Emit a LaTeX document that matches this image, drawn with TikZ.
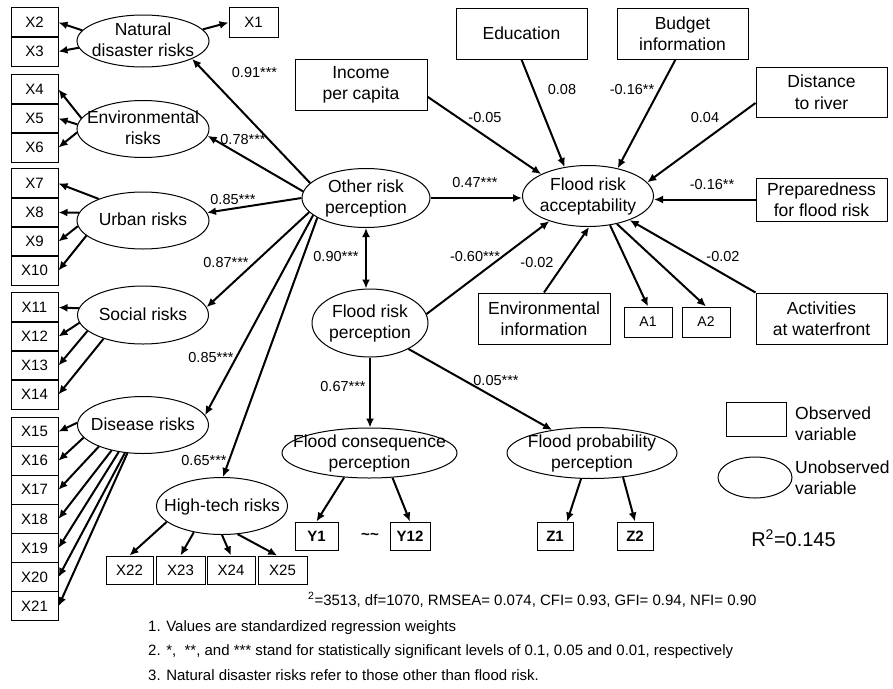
\documentclass[tikz,border=0pt]{standalone}
\usepackage{fontspec}
\setmainfont{Liberation Sans}
\usetikzlibrary{shapes.geometric,arrows.meta,calc}
\newcommand{\elab}[1]{\makebox[0pt]{\smash{\raisebox{-0.3em}{\begin{tabular}[c]{@{}c@{}}#1\end{tabular}}}}}
\tikzset{
  lat/.style={draw, ellipse, line width=1pt, inner sep=0pt, font=\fontsize{17.5}{21}\selectfont},
  big/.style={draw, line width=1pt, inner sep=0pt, align=center, font=\fontsize{17.5}{21.5}\selectfont, minimum width=131pt, minimum height=51pt},
  xb/.style={draw, line width=1pt, inner sep=0pt, minimum width=47pt, minimum height=29.2pt, font=\fontsize{15}{18}\selectfont},
  yb/.style={draw, line width=1pt, inner sep=0pt, minimum height=28pt, font=\fontsize{15}{18}\selectfont\bfseries},
  coef/.style={inner sep=0pt, font=\fontsize{14.5}{17}\selectfont},
  foot/.style={inner sep=0pt, anchor=base west, font=\fontsize{15}{18}\selectfont},
  arr/.style={line width=2pt, -{Latex[length=9pt,width=8pt]}},
  arrtwo/.style={line width=2pt, {Latex[length=9pt,width=8pt]}-{Latex[length=9pt,width=8pt]}}
}
\begin{document}
\begin{tikzpicture}[x=1pt,y=-1pt]
\useasboundingbox (0,0) rectangle (893,688);
% left observed boxes
\foreach \i/\yy in {2/22.5,3/51.5,4/89.5,5/118.5,6/147.5,7/183.5,8/212.5,9/241.5,10/270.5,11/307.5,12/336.5,13/365.5,14/394.5,15/431.6,16/460.7,17/489.8,18/518.9,19/548,20/577.1,21/606.2}
  \node[xb] (X\i) at (34.5,\yy) {X\i};
\node[xb, minimum width=49pt] (X1) at (253.5,22.5) {X1};
\node[xb, minimum height=28pt] (X22) at (129.5,570) {X22};
\node[xb, minimum height=28pt, minimum width=49pt] (X23) at (180.5,570) {X23};
\node[xb, minimum height=28pt, minimum width=48pt] (X24) at (231,570) {X24};
\node[xb, minimum height=28pt, minimum width=49pt] (X25) at (282.5,570) {X25};
% latent variables
\node[lat, minimum width=132pt, minimum height=52pt] (nat) at (143,41) {\elab{Natural\\disaster risks}};
\node[lat, minimum width=132pt, minimum height=57pt] (env) at (143,129) {\elab{Environmental\\risks}};
\node[lat, minimum width=132pt, minimum height=57pt] (urb) at (143,220.5) {\elab{Urban risks}};
\node[lat, minimum width=131pt, minimum height=58pt] (soc) at (143,315) {\elab{Social risks}};
\node[lat, minimum width=131pt, minimum height=57pt] (dis) at (143,425) {\elab{Disease risks}};
\node[lat, minimum width=131pt, minimum height=57pt] (ht) at (222,506) {\elab{High-tech risks}};
\node[lat, minimum width=128pt, minimum height=59pt] (oth) at (366,198) {\elab{Other risk\\perception}};
\node[lat, minimum width=131pt, minimum height=61pt] (fra) at (588,196) {\elab{Flood risk\\acceptability}};
\node[lat, minimum width=116pt, minimum height=68pt] (frp) at (370,323) {\elab{Flood risk\\perception}};
\node[lat, minimum width=175pt, minimum height=50pt] (fcp) at (369.5,453) {\elab{Flood consequence\\perception}};
\node[lat, minimum width=170pt, minimum height=51pt] (fpp) at (592,453) {\elab{Flood probability\\perception}};
% observed predictors
\node[big, minimum width=132pt] (inc) at (361,85) {Income\\per capita};
\node[big] (edu) at (521.5,33.5) {Education};
\node[big] (bud) at (682.5,33.5) {Budget\\information};
\node[big, minimum height=50pt] (dst) at (821.5,92) {Distance\\to river};
\node[big, minimum height=43pt] (prp) at (821.5,199.5) {Preparedness\\for flood risk};
\node[big, minimum width=132pt] (eni) at (544,318.5) {Environmental\\information};
\node[big] (act) at (821.5,318.5) {Activities\\at waterfront};
\node[xb, minimum width=48pt, minimum height=30pt, font=\fontsize{14}{17}\selectfont] (A1) at (648,322) {A1};
\node[xb, minimum width=48pt, minimum height=30pt, font=\fontsize{14}{17}\selectfont] (A2) at (706,322) {A2};
\node[yb, minimum width=43pt] (Y1) at (316.5,536) {Y1};
\node[yb, minimum width=40pt] (Y12) at (410,536) {Y12};
\node[inner sep=0pt, font=\fontsize{15}{18}\selectfont\bfseries] (tl) at (370,536) {\textasciitilde\textasciitilde};
\node[yb, minimum width=36pt] (Z1) at (555,536) {Z1};
\node[yb, minimum width=36pt] (Z2) at (635,536) {Z2};
% legend
\node[draw, line width=1pt, minimum width=60pt, minimum height=34pt, inner sep=0pt] (legobs) at (756,419) {};
\node[draw, ellipse, line width=1pt, minimum width=74pt, minimum height=41pt, inner sep=0pt] (legun) at (755,477.5) {};
\node[inner sep=0pt, anchor=west, align=left, font=\fontsize{17.5}{21}\selectfont] (legobst) at (795,424) {Observed\\variable};
\node[inner sep=0pt, anchor=west, align=left, font=\fontsize{17.5}{21}\selectfont] (leguntx) at (795,478) {Unobserved\\variable};
\node[inner sep=0pt, font=\fontsize{20}{24}\selectfont] (rsq) at (793.5,538) {R\textsuperscript{2}=0.145};
% connectors from other risk perception
\draw[arr] (oth.165) -- (nat.-20);
\draw[arr] (oth.174) -- (env.-6);
\draw[arr] (oth.180) -- (urb.7);
\draw[arr] (oth.194) -- (soc.7);
\draw[arr] (oth.198) -- (dis.9);
\draw[arr] (oth.202) -- (ht.88);
% measurement arrows
\draw[arr] (nat.170) -- (X2.east);
\draw[arr] (nat.186) -- (X3.east);
\draw[arr] (nat.11) -- (X1.west);
\draw[arr] (env.170) -- (X4.east);
\draw[arr] (env.176) -- (X5.east);
\draw[arr] (env.183) -- (X6.east);
\draw[arr] (urb.154) -- (X7.east);
\draw[arr] (urb.173) -- (X8.east);
\draw[arr] (urb.185) -- (X9.east);
\draw[arr] (urb.195) -- (X10.east);
\draw[arr] (soc.174) -- (X11.east);
\draw[arr] (soc.187) -- (X12.east);
\draw[arr] (soc.196) -- (X13.east);
\draw[arr] (soc.211) -- (X14.east);
\draw[arr] (dis.178) -- (X15.east);
\draw[arr] (dis.192) -- (X16.east);
\draw[arr] (dis.206) -- (X17.east);
\draw[arr] (dis.219) -- (X18.east);
\draw[arr] (dis.228) -- (X19.east);
\draw[arr] (dis.237) -- (X20.east);
\draw[arr] (dis.241) -- (X21.east);
\draw[arr] (ht.196) -- (X22.north);
\draw[arr] (ht.223) -- (X23.north);
\draw[arr] (ht.270) -- (X24.north);
\draw[arr] (ht.-61) -- (X25.110);
% structural arrows
\draw[arr] (inc.-10) -- (fra.155);
\draw[arr] (edu.south) -- (fra.129);
\draw[arr] ([xshift=-7pt]bud.south) -- (fra.43);
\draw[arr] ([yshift=-11pt]dst.west) -- (fra.13);
\draw[arr] (prp.west) -- (prp.west -| fra.east);
\draw[arr] (act.north west) -- (fra.-30);
\draw[arr] (eni.north) -- (fra.-88);
\draw[arr] (frp.9) -- (fra.213);
\draw[arr] (oth.east) -- (oth.east -| fra.west);
\draw[arr] (fra.-53) -- (A1.north);
\draw[arr] (fra.-44) -- (A2.north);
\draw[arrtwo] (oth.south) -- (oth.south |- frp.north);
\draw[arr] (frp.south) -- (frp.south |- fcp.north);
\draw[arr] (frp.-34) -- (fpp.150);
\draw[arr] (fcp.224) -- (Y1.north);
\draw[arr] (fcp.-47) -- (Y12.north);
\draw[arr] (fpp.247) -- ([xshift=12pt]Z1.north);
\draw[arr] (fpp.-38) -- (Z2.north);
% coefficients
\node[coef] (k1) at (254.5,73) {0.91***};
\node[coef] (k2) at (243,140) {0.78***};
\node[coef] (k3) at (233,200) {0.85***};
\node[coef] (k4) at (226,263) {0.87***};
\node[coef] (k5) at (211,358) {0.85***};
\node[coef] (k6) at (204,461) {0.65***};
\node[coef] (k7) at (336,257) {0.90***};
\node[coef] (k8) at (343,387) {0.67***};
\node[coef] (k9) at (496,381) {0.05***};
\node[coef] (k10) at (475,257) {-0.60***};
\node[coef] (k11) at (537,263) {-0.02};
\node[coef] (k12) at (723,257) {-0.02};
\node[coef] (k13) at (485,118) {-0.05};
\node[coef] (k14) at (562,90) {0.08};
\node[coef] (k15) at (632,90) {-0.16**};
\node[coef] (k16) at (705,118) {0.04};
\node[coef] (k17) at (712,185) {-0.16**};
\node[coef] (k18) at (475,183) {0.47***};
% footnotes
\node[foot] (fchi) at (308,605) {\textsuperscript{2}=3513, df=1070, RMSEA= 0.074, CFI= 0.93, GFI= 0.94, NFI= 0.90};
\node[foot] (f1) at (148,631) {1. Values are standardized regression weights};
\node[foot] (f2) at (148,655.5) {2. *,\ \ **, and *** stand for statistically significant levels of 0.1, 0.05 and 0.01, respectively};
\node[foot] (f3) at (148,680) {3. Natural disaster risks refer to those other than flood risk.};
\end{tikzpicture}
\end{document}
